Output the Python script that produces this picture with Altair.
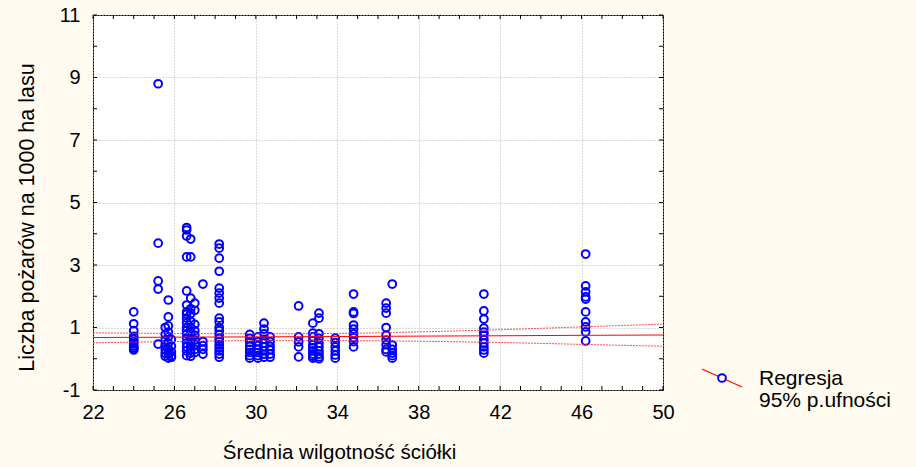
import altair as alt
import pandas as pd

# Mean litter moisture classes (x) and fire counts per 1000 ha of forest (y)
moisture = [24.0, 25.2, 25.55, 25.7, 25.85, 26.6, 26.8, 27.0, 27.4, 28.2,
            29.7, 30.1, 30.4, 30.7, 32.1, 32.8, 33.1, 33.9, 34.8, 36.4,
            36.7, 41.2, 46.2]
fires = [
    [1.5, 1.12, 0.9, 0.72, 0.62, 0.55, 0.48, 0.42, 0.36, 0.32, 0.28],
    [8.8, 3.7, 2.49, 2.23, 0.47],
    [1.0, 0.78, 0.6, 0.45, 0.3, 0.18, 0.08],
    [1.88, 1.34, 1.05, 0.85, 0.7, 0.5, 0.32, 0.15, 0.02],
    [0.62, 0.4, 0.22, 0.1, 0.05],
    [4.2, 4.12, 3.93, 3.26, 2.17, 1.72, 1.5, 1.43, 1.3, 1.15, 1.0, 0.9, 0.8,
     0.65, 0.5, 0.38, 0.25, 0.1],
    [3.83, 3.26, 1.94, 1.6, 1.45, 1.2, 1.0, 0.85, 0.7, 0.55, 0.4, 0.3, 0.18, 0.08],
    [1.78, 1.55, 1.1, 0.9, 0.75, 0.6, 0.45, 0.3, 0.2],
    [2.39, 0.55, 0.42, 0.3, 0.15],
    [3.67, 3.54, 3.22, 2.8, 2.26, 2.1, 1.94, 1.78, 1.3, 1.18, 1.0, 0.9, 0.78,
     0.65, 0.55, 0.45, 0.35, 0.25, 0.15, 0.05],
    [0.78, 0.65, 0.52, 0.4, 0.3, 0.2, 0.1, 0.02],
    [0.7, 0.55, 0.42, 0.3, 0.2, 0.1, 0.02],
    [1.14, 0.95, 0.8, 0.62, 0.5, 0.38, 0.25, 0.15, 0.05],
    [0.7, 0.55, 0.4, 0.28, 0.15, 0.05],
    [1.69, 0.7, 0.54, 0.38, 0.06],
    [1.14, 0.82, 0.7, 0.58, 0.45, 0.35, 0.25, 0.15, 0.08, 0.02],
    [1.46, 1.3, 0.8, 0.65, 0.5, 0.38, 0.25, 0.15, 0.06, 0.0],
    [0.66, 0.52, 0.38, 0.25, 0.12, 0.02],
    [2.07, 1.5, 1.45, 1.08, 0.95, 0.8, 0.68, 0.55, 0.38],
    [1.78, 1.62, 1.46, 1.0, 0.75, 0.6, 0.45, 0.3, 0.22],
    [2.39, 0.44, 0.3, 0.18, 0.1, 0.02],
    [2.07, 1.53, 1.27, 0.98, 0.85, 0.75, 0.62, 0.5, 0.38, 0.28, 0.18],
    [3.35, 2.33, 2.14, 1.98, 1.91, 1.5, 1.18, 1.02, 0.86, 0.57],
]

# Fitted regression line and its 95% confidence limits
fit_x = [22, 26, 30, 34, 38, 42, 46, 50]
fit_y = [0.68, 0.69, 0.70, 0.71, 0.725, 0.735, 0.75, 0.76]
ci_upper = [0.83, 0.81, 0.80, 0.81, 0.86, 0.93, 1.02, 1.11]
ci_lower = [0.51, 0.55, 0.58, 0.58, 0.56, 0.52, 0.46, 0.40]

x_labels = [22, 26, 30, 34, 38, 42, 46, 50]
y_labels = [-1, 1, 3, 5, 7, 9, 11]
x_ticks = list(range(22, 51))
y_ticks = list(range(-1, 12))
legend_labels = ["Regresja", "95% p.ufności"]

W, H = 570, 375
FONT = "Liberation Sans"
BLUE = "#0000FF"
RED = "#FF0000"

points = pd.DataFrame(
    [{"x": mx, "y": v} for mx, col in zip(moisture, fires) for v in col]
)
fit = pd.DataFrame({"x": fit_x, "fit": fit_y, "upper": ci_upper, "lower": ci_lower})

x_scale = alt.Scale(domain=[22, 50], nice=False, zero=False)
y_scale = alt.Scale(domain=[-1, 11], nice=False, zero=False)

x_axis = alt.Axis(
    values=x_labels, grid=True, gridDash=[1, 2], gridColor="#b4b4b4",
    ticks=False, domain=False, labelFont=FONT, labelFontSize=20,
    labelColor="black", labelPadding=12, labelFlush=False,
    title="Średnia wilgotność ściółki", titleFont=FONT, titleFontSize=20.5,
    titleFontWeight="normal", titleColor="black", titleX=246, titleY=68,
    titleAlign="center", titleBaseline="alphabetic",
)
y_axis = alt.Axis(
    values=y_labels, grid=True, gridDash=[1, 2], gridColor="#b4b4b4",
    ticks=False, domain=False, labelFont=FONT, labelFontSize=20,
    labelColor="black", labelPadding=13, labelFlush=False,
    labelExpr="'' + datum.value",
    title="Liczba pożarów na 1000 ha lasu", titleFont=FONT, titleFontSize=21.5,
    titleFontWeight="normal", titleColor="black", titleX=-60, titleY=202,
    titleAngle=-90, titleAlign="center", titleBaseline="alphabetic",
)


def xq(field="x"):
    return alt.X(f"{field}:Q", scale=x_scale, axis=x_axis)


def yq(field):
    return alt.Y(f"{field}:Q", scale=y_scale, axis=y_axis)


scatter = alt.Chart(points).mark_point(
    shape="circle", filled=False, color=BLUE, size=60, strokeWidth=2, opacity=1
).encode(x=xq(), y=yq("y"))

fit_line = alt.Chart(fit).mark_line(color=RED, strokeWidth=1).encode(
    x=xq(), y=yq("fit"))
band_style = dict(color="#FF3030", strokeWidth=1, strokeDash=[2, 1], opacity=0.85,
                  interpolate="monotone")
upper_line = alt.Chart(fit).mark_line(**band_style).encode(x=xq(), y=yq("upper"))
lower_line = alt.Chart(fit).mark_line(**band_style).encode(x=xq(), y=yq("lower"))

# Inward tick marks on all four sides of the frame
xt = pd.DataFrame({"x": x_ticks})
yt = pd.DataFrame({"y": y_ticks})
tick_style = dict(color="black", strokeWidth=1)
ticks_bottom = alt.Chart(xt).mark_rule(**tick_style).encode(
    x=xq(), y=alt.value(H - 4), y2=alt.value(H))
ticks_top = alt.Chart(xt).mark_rule(**tick_style).encode(
    x=xq(), y=alt.value(0), y2=alt.value(4))
ticks_left = alt.Chart(yt).mark_rule(**tick_style).encode(
    y=yq("y"), x=alt.value(0), x2=alt.value(4))
ticks_right = alt.Chart(yt).mark_rule(**tick_style).encode(
    y=yq("y"), x=alt.value(W - 4), x2=alt.value(W))

# Legend drawn beside the plot
one = pd.DataFrame({"k": [0]})
leg_line = alt.Chart(one).mark_rule(color=RED, strokeWidth=1.2).encode(
    x=alt.value(609), x2=alt.value(649), y=alt.value(354), y2=alt.value(372))
leg_dot = alt.Chart(one).mark_point(
    shape="circle", filled=True, fill="white", stroke=BLUE, size=60,
    strokeWidth=2, opacity=1).encode(x=alt.value(629), y=alt.value(363))
leg_text1 = alt.Chart(one).mark_text(
    font=FONT, fontSize=21, align="left", baseline="alphabetic", color="black"
).encode(x=alt.value(666), y=alt.value(370), text=alt.value(legend_labels[0]))
leg_text2 = alt.Chart(one).mark_text(
    font=FONT, fontSize=21, align="left", baseline="alphabetic", color="black"
).encode(x=alt.value(666), y=alt.value(392), text=alt.value(legend_labels[1]))

chart = alt.layer(
    scatter, upper_line, lower_line, fit_line,
    ticks_bottom, ticks_top, ticks_left, ticks_right,
    leg_line, leg_dot, leg_text1, leg_text2,
).properties(
    width=W, height=H,
    autosize=alt.AutoSizeParams(type="none"),
    padding={"left": 93, "top": 15, "right": 253, "bottom": 77},
).configure(
    background="#FFFBF0",
).configure_view(
    fill="white", stroke="black", strokeWidth=1,
)

chart.save("out.html", embed_options={"renderer": "svg", "actions": False})
